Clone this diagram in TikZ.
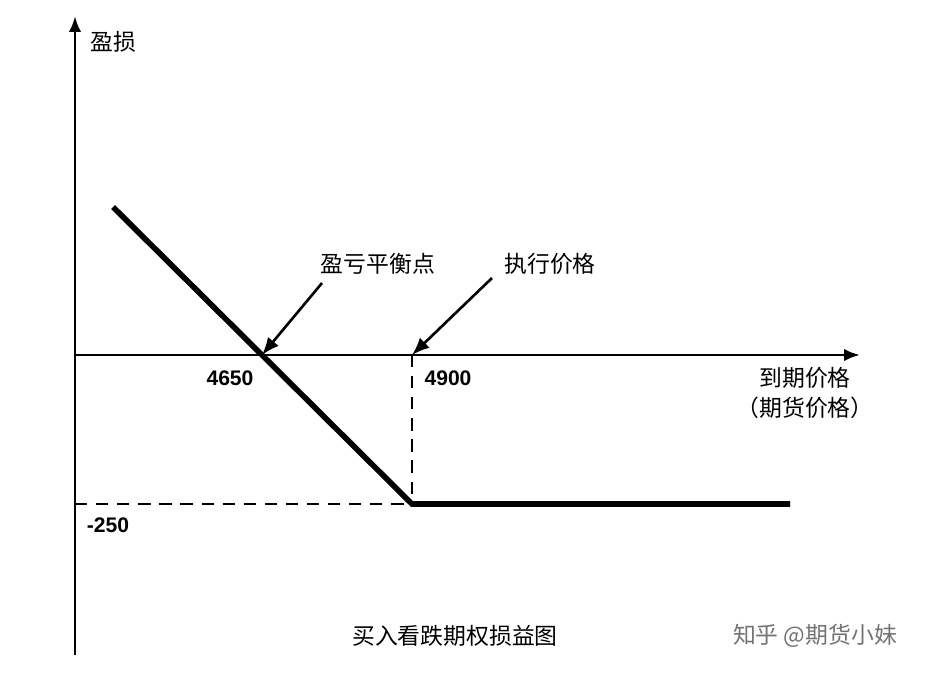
\documentclass[tikz,border=0pt]{standalone}
\usepackage{fontspec}
\setmainfont{Liberation Sans}
\newfontfamily\cjk{Noto Sans CJK SC}
\usetikzlibrary{arrows.meta,positioning}
\begin{document}
\begin{tikzpicture}[
    x=0.02cm, y=-0.02cm,
    axis/.style={line width=1.6pt,-{Latex[length=9pt,width=7pt]}},
    payoff/.style={line width=3.2pt},
    guide/.style={line width=1.4pt,dash pattern=on 7pt off 5pt},
    pointer/.style={line width=1.5pt,-{Latex[length=10pt,width=8pt]}},
    lbl/.style={font=\cjk\fontsize{13}{15}\selectfont},
    num/.style={font=\bfseries\fontsize{12}{14}\selectfont},
    ]
    \useasboundingbox[fill=white] (0,0) rectangle (939,677);

    %axes
    \coordinate (o) at (75,355);
    \coordinate (ybot) at (75,655);
    \coordinate (ytop) at (75,16);
    \coordinate (xend) at (860,355);
    \draw[axis] (ybot) -- (ytop);
    \draw[axis] (o) -- (xend);

    %payoff
    \coordinate (p0) at (113,207);
    \coordinate (be) at (262,355);
    \coordinate (k) at (412,355);
    \coordinate (kl) at (412,504);
    \coordinate (p1) at (790,504);
    \coordinate (yl) at (75,504);
    \draw[payoff] (p0) -- (kl) -- (p1);
    \draw[guide] (k) -- (kl);
    \draw[guide] (yl) -- (kl);

    %labels
    \node[lbl] (ylab) at (113,42) {盈损};
    \node[lbl] (belab) at (378,264) {盈亏平衡点};
    \node[lbl] (klab) at (550,264) {执行价格};
    \node[lbl] (xlab) at (805,378) {到期价格};
    \node[lbl] (xlab2) at (805,408) {（期货价格）};
    \node[num] (n4650) at (230,378) {4650};
    \node[num] (n4900) at (448,378) {4900};
    \node[num] (n250) at (108,525) {-250};
    \node[lbl] (title) at (455,636) {买入看跌期权损益图};
    \node[lbl,text=black!55] (mark) at (815,636) {知乎 @期货小妹};

    %pointers
    \coordinate (bs) at (322,283);
    \coordinate (ks) at (492,278);
    \draw[pointer] (bs) -- (be);
    \draw[pointer] (ks) -- (k);
\end{tikzpicture}
\end{document}
